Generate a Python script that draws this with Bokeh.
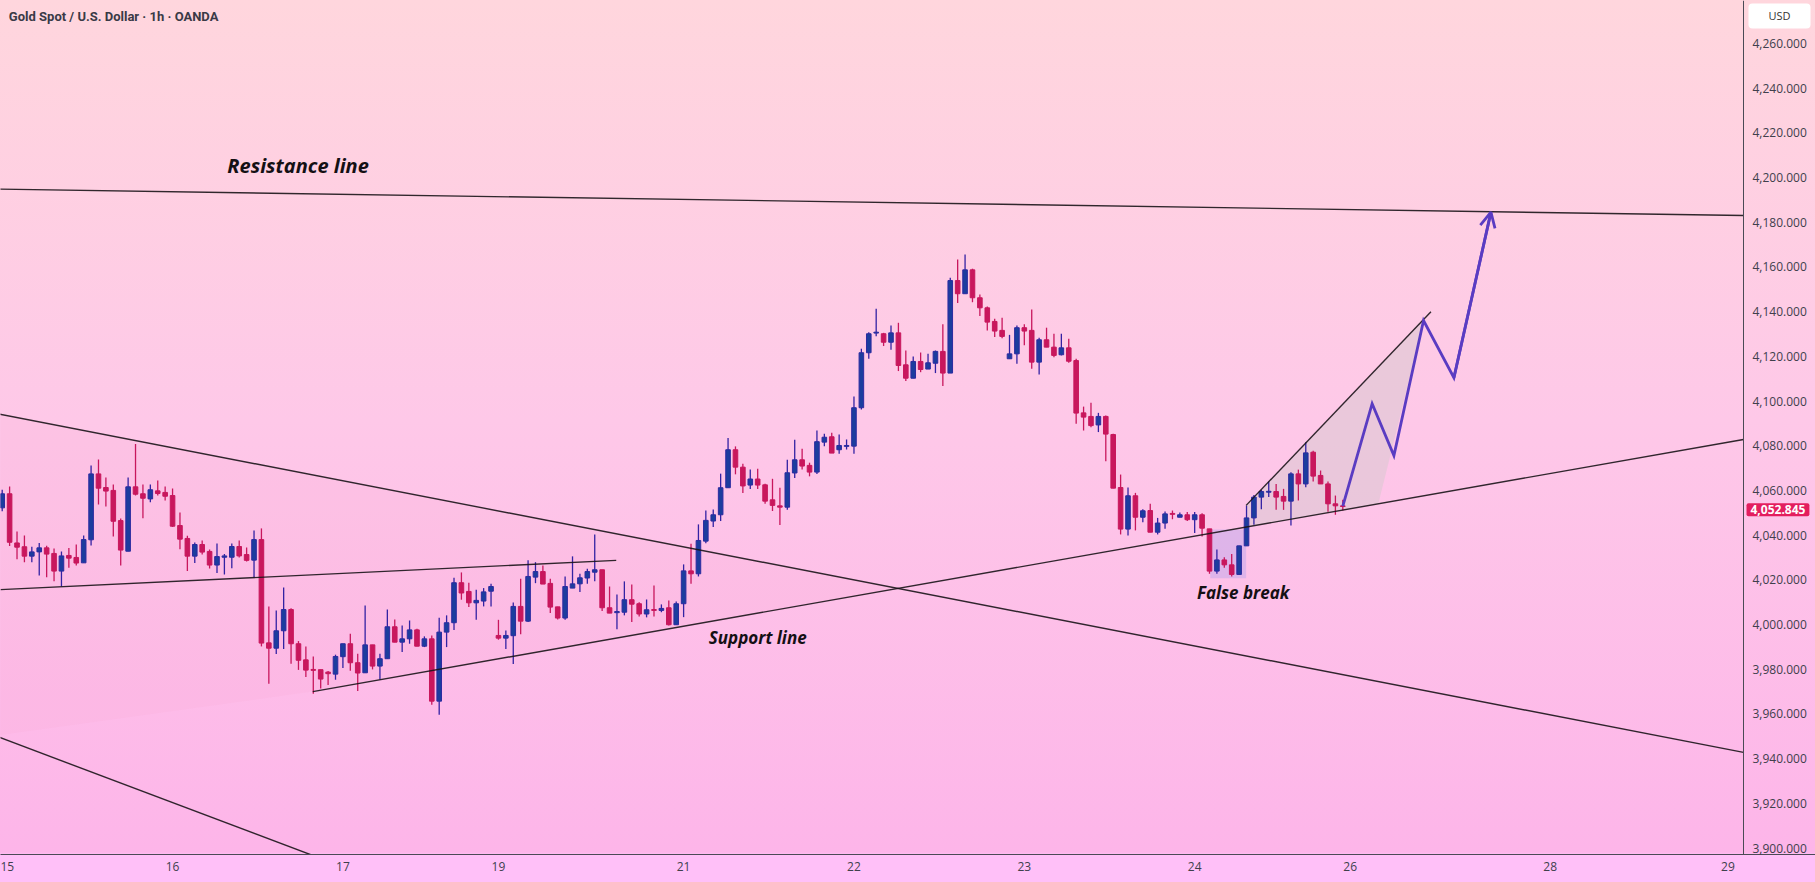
from bokeh.plotting import figure
from bokeh.models import (Range1d, FixedTicker, NumeralTickFormatter, Label, Arrow,
                          OpenHead, ColumnDataSource, Span)
from bokeh.embed import file_html
from bokeh.resources import INLINE

# ---------------- data (1h candles, bar index 0..181) ----------------
opens = [4052.2, 4058.5, 4036.5, 4034.8, 4030.6, 4032.5, 4034.3, 4031.8, 4023.9, 4030.9,
         4030.0, 4027.6, 4037.9, 4067.4, 4061.3, 4060.0, 4046.5, 4032.8, 4061.6, 4058.5,
         4056.2, 4059.8, 4059.1, 4057.7, 4044.3, 4038.5, 4030.6, 4035.8, 4032.7, 4026.6,
         4030.1, 4030.1, 4034.9, 4031.3, 4028.8, 4038.0, 3991.8, 3989.4, 3997.2, 4006.7,
         3991.4, 3984.2, 3979.9, 3979.8, 3978.7, 3977.8, 3985.6, 3991.4, 3982.9, 3978.4,
         3990.9, 3981.4, 3984.7, 3999.0, 3992.1, 3993.6, 3997.6, 3990.3, 3993.6, 3965.7,
         3996.6, 4000.8, 4018.7, 4014.8, 4009.7, 4010.5, 4014.9, 3995.1, 3993.9, 3995.0,
         4008.1, 4001.5, 4021.2, 4023.7, 4018.4, 4007.9, 4002.9, 4016.3, 4018.2, 4020.8,
         4023.4, 4024.5, 4007.5, 4005.3, 4005.5, 4011.1, 4009.3, 4004.7, 4006.7, 4006.3,
         4007.5, 3999.9, 4009.3, 4024.0, 4022.7, 4037.3, 4046.3, 4049.1, 4061.2, 4078.2,
         4070.4, 4062.4, 4065.1, 4062.5, 4055.8, 4053.1, 4052.5, 4067.8, 4073.7, 4071.2,
         4068.2, 4081.6, 4084.0, 4078.2, 4079.7, 4079.8, 4097.0, 4121.6, 4130.4, 4130.1,
         4126.3, 4130.5, 4116.2, 4110.2, 4117.7, 4114.3, 4116.9, 4122.2, 4112.5, 4153.9,
         4148.0, 4158.7, 4146.2, 4141.7, 4135.6, 4131.6, 4118.9, 4121.1, 4132.8, 4131.6,
         4117.4, 4127.4, 4124.1, 4120.7, 4123.8, 4118.1, 4094.7, 4093.1, 4089.3, 4093.1,
         4085.0, 4061.3, 4042.7, 4057.6, 4048.0, 4051.0, 4041.3, 4045.4, 4049.7, 4048.0,
         4049.1, 4046.9, 4049.1, 4042.8, 4023.9, 4028.9, 4026.7, 4022.4, 4035.2, 4047.7,
         4057.0, 4059.2, 4059.5, 4057.3, 4055.2, 4067.4, 4062.9, 4077.1, 4066.7, 4062.9,
         4054.0, 4053.1]
highs = [4060.3, 4061.7, 4041.6, 4039.8, 4034.8, 4036.5, 4035.2, 4034.0, 4032.7, 4034.2,
         4035.8, 4039.8, 4071.1, 4073.8, 4065.8, 4062.6, 4047.4, 4065.8, 4080.8, 4062.6,
         4062.6, 4064.4, 4061.7, 4060.9, 4050.1, 4039.7, 4036.7, 4037.6, 4033.6, 4036.3,
         4031.5, 4036.3, 4037.6, 4034.5, 4042.1, 4043.0, 4008.1, 4006.3, 4016.6, 4007.3,
         3992.6, 3990.2, 3985.7, 3979.8, 3979.2, 3986.5, 3991.4, 3995.9, 3986.9, 4008.5,
         3990.9, 3986.9, 4006.7, 4002.3, 3999.6, 4001.8, 3998.1, 3994.7, 3995.1, 4003.0,
         4004.1, 4020.9, 4023.3, 4018.7, 4015.5, 4016.3, 4018.2, 4002.1, 3997.3, 4009.9,
         4020.5, 4028.7, 4027.9, 4026.4, 4020.5, 4007.9, 4021.5, 4030.5, 4022.7, 4024.9,
         4040.3, 4024.5, 4017.0, 4013.4, 4019.3, 4017.9, 4010.0, 4011.2, 4017.5, 4009.0,
         4010.8, 4010.3, 4026.9, 4036.1, 4044.8, 4051.0, 4051.5, 4067.5, 4083.5, 4079.7,
         4071.9, 4069.4, 4069.7, 4063.0, 4065.2, 4061.2, 4073.7, 4082.7, 4078.6, 4072.4,
         4086.8, 4085.3, 4085.8, 4085.0, 4082.8, 4102.0, 4123.4, 4130.8, 4141.3, 4130.5,
         4133.8, 4135.0, 4122.6, 4119.9, 4121.7, 4121.1, 4122.6, 4134.3, 4155.1, 4163.3,
         4165.6, 4159.2, 4147.7, 4142.3, 4136.8, 4137.2, 4129.6, 4133.8, 4134.3, 4140.9,
         4128.3, 4132.8, 4130.1, 4130.1, 4127.9, 4118.9, 4097.5, 4099.2, 4094.7, 4093.5,
         4085.3, 4067.1, 4061.3, 4058.9, 4051.6, 4054.0, 4047.7, 4050.6, 4051.0, 4050.1,
         4050.3, 4050.3, 4049.8, 4042.8, 4033.6, 4030.1, 4031.6, 4035.2, 4053.2, 4058.0,
         4060.2, 4064.0, 4062.9, 4060.7, 4068.1, 4069.3, 4081.6, 4077.8, 4068.9, 4064.0,
         4057.7, 4055.8]
lows = [4050.7, 4035.1, 4029.2, 4027.9, 4027.9, 4021.9, 4021.2, 4019.4, 4017.0, 4025.4,
        4026.4, 4027.6, 4035.4, 4053.7, 4052.8, 4039.4, 4026.4, 4032.8, 4057.7, 4047.6,
        4054.7, 4057.7, 4055.5, 4043.6, 4033.7, 4023.9, 4027.5, 4031.3, 4025.1, 4023.0,
        4022.4, 4025.2, 4030.0, 4028.2, 4020.9, 3990.2, 3973.5, 3986.8, 3989.0, 3982.4,
        3979.7, 3976.5, 3969.0, 3971.4, 3972.9, 3975.3, 3980.5, 3979.3, 3970.2, 3978.4,
        3979.9, 3975.4, 3984.7, 3992.1, 3987.7, 3991.4, 3990.3, 3989.9, 3964.1, 3959.6,
        3989.9, 3997.6, 4011.1, 4007.8, 4002.1, 4008.1, 4008.1, 3993.2, 3989.0, 3982.3,
        3995.6, 4001.1, 4018.5, 4018.1, 4005.1, 4002.3, 4002.1, 4016.3, 4014.5, 4018.2,
        4019.4, 4006.0, 4005.1, 3997.9, 4004.1, 4001.1, 4003.6, 4003.2, 4003.6, 4005.5,
        3999.6, 3999.9, 4003.3, 4018.2, 4021.5, 4036.4, 4043.6, 4046.3, 4061.2, 4067.2,
        4058.8, 4060.6, 4060.6, 4054.0, 4050.8, 4044.5, 4051.3, 4065.5, 4069.4, 4066.3,
        4067.3, 4079.8, 4076.7, 4076.4, 4078.3, 4076.4, 4096.2, 4118.9, 4129.0, 4124.6,
        4122.9, 4113.4, 4108.9, 4110.2, 4112.9, 4114.3, 4112.5, 4106.7, 4112.5, 4143.8,
        4148.0, 4144.2, 4138.0, 4131.6, 4128.6, 4128.1, 4118.9, 4116.7, 4124.9, 4114.4,
        4111.9, 4124.1, 4119.6, 4120.4, 4117.1, 4089.8, 4086.8, 4088.3, 4086.1, 4073.1,
        4061.0, 4040.3, 4039.8, 4042.1, 4045.8, 4041.3, 4040.3, 4042.8, 4047.1, 4048.0,
        4046.3, 4040.9, 4039.4, 4022.7, 4022.7, 4025.4, 4021.5, 4022.4, 4035.2, 4044.6,
        4051.6, 4057.0, 4051.3, 4051.3, 4044.3, 4055.5, 4061.4, 4064.0, 4062.9, 4050.5,
        4049.1, 4051.0]
closes = [4058.5, 4036.8, 4034.6, 4030.6, 4032.5, 4034.3, 4031.5, 4023.9, 4030.7, 4029.7,
          4027.5, 4038.0, 4067.4, 4061.0, 4059.7, 4046.2, 4033.3, 4061.6, 4058.3, 4056.5,
          4060.3, 4058.6, 4057.4, 4044.0, 4038.2, 4030.6, 4035.8, 4032.4, 4026.6, 4030.4,
          4030.7, 4034.9, 4030.7, 4028.7, 4038.0, 3991.7, 3989.4, 3997.2, 4006.7, 3991.4,
          3984.0, 3979.6, 3979.5, 3975.6, 3978.0, 3985.7, 3991.4, 3982.9, 3978.3, 3990.9,
          3981.4, 3984.7, 3999.0, 3992.1, 3993.6, 3997.6, 3990.3, 3993.6, 3965.7, 3996.6,
          4000.8, 4018.7, 4014.1, 4009.7, 4010.8, 4014.6, 4017.0, 3993.9, 3995.1, 4008.1,
          4001.5, 4021.5, 4023.7, 4018.1, 4007.8, 4002.9, 4017.0, 4018.2, 4020.9, 4023.7,
          4024.5, 4007.5, 4005.1, 4005.8, 4011.1, 4009.1, 4004.7, 4006.6, 4006.3, 4007.2,
          3999.9, 4009.3, 4024.0, 4022.7, 4037.6, 4046.6, 4049.1, 4061.2, 4078.2, 4070.4,
          4062.0, 4065.1, 4062.4, 4055.2, 4053.3, 4052.5, 4067.9, 4073.7, 4070.9, 4068.2,
          4081.8, 4083.8, 4076.7, 4080.1, 4080.1, 4097.0, 4121.6, 4130.1, 4130.8, 4126.3,
          4130.5, 4115.9, 4110.2, 4117.7, 4114.1, 4117.1, 4122.2, 4112.5, 4153.9, 4148.0,
          4158.7, 4146.2, 4141.7, 4135.3, 4131.3, 4128.9, 4121.1, 4132.8, 4131.3, 4117.4,
          4127.4, 4124.1, 4120.4, 4123.8, 4117.8, 4094.6, 4092.8, 4089.0, 4093.1, 4085.2,
          4061.0, 4042.7, 4057.6, 4048.0, 4050.9, 4041.3, 4045.4, 4049.5, 4049.3, 4049.1,
          4046.9, 4049.1, 4043.1, 4023.9, 4028.9, 4026.7, 4022.4, 4035.2, 4047.7, 4057.0,
          4059.5, 4059.6, 4057.0, 4055.2, 4067.4, 4062.9, 4076.8, 4066.4, 4062.9, 4054.0,
          4053.1, 4052.8]

last_price = 4052.845

# x axis (bar index -> day label)
x_tick_pos = [0, 23, 46, 67, 92, 115, 138, 161, 182, 209, 233]
x_tick_lbl = ["15", "16", "17", "19", "21", "22", "23", "24", "26", "28", "29"]
# price axis
y_ticks = [3900, 3920, 3940, 3960, 3980, 4000, 4020, 4040, 4060, 4080, 4100,
           4120, 4140, 4160, 4180, 4200, 4220, 4240, 4260]

# drawings (bar index, price)
chart_right = 235.1            # right edge of the candle pane (price scale starts here)
resistance_x = [-1, chart_right];    resistance_y = [4194.85, 4183.0]
desc_upper_x = [-1, chart_right];    desc_upper_y = [4094.5, 3942.8]
desc_lower_x = [-1, 50];             desc_lower_y = [3950.3, 3886.6]
flat_top_x = [-0.23, 82.9];          flat_top_y = [4015.6, 4028.7]
support_x = [41.93, chart_right];    support_y = [3970.0, 4082.8]
wedge_top_x = [167.95, 192.9];       wedge_top_y = [4053.3, 4139.9]
wedge_fill_x = [167.95, 191.96, 185.8, 167.95]
wedge_fill_y = [4053.3, 4136.5, 4054.0, 4043.6]
tri_fill_x = [-1, 120.85, 41.93, -1]
tri_fill_y = [4094.5, 4016.1, 3970.0, 3950.3]
false_break_x = [163.1, 167.95]; false_break_y = [4020.7, 4042.5]
proj_x = [181, 184.96, 187.9, 191.9, 196.0, 201.0]
proj_y = [4053.0, 4098.8, 4075.6, 4136.0, 4110.4, 4184.5]

# ---------------- figure ----------------
# the frame covers the whole width; the price scale is drawn inside its right strip
p = figure(frame_width=1815, frame_height=854,
           x_range=Range1d(-0.23, 244.82), y_range=Range1d(3897.1, 4279.2),
           y_axis_location="right", output_backend="svg", toolbar_location=None,
           min_border_left=0, min_border_top=0, min_border_right=0, min_border_bottom=28)
p.styles = {"background": "linear-gradient(to bottom, #ffd6dd 0px, #fec8e8 420px, "
                          "#fdb5e9 852px, #ffc0f8 855px, #ffc0f8 882px)"}
p.background_fill_alpha = 0
p.border_fill_alpha = 0
p.outline_line_color = None
p.grid.visible = False

for ax in (p.xaxis[0], p.yaxis[0]):
    ax.major_tick_line_color = None
    ax.minor_tick_line_color = None
    ax.major_tick_out = 0
    ax.major_tick_in = 0
    ax.minor_tick_out = 0
    ax.major_label_text_font = "Open Sans"
    ax.major_label_text_font_size = "12px"
    ax.major_label_text_color = "#40404c"
p.xaxis.axis_line_color = "#4a4a55"
p.yaxis.axis_line_color = None
p.yaxis.ticker = FixedTicker(ticks=y_ticks)
p.yaxis.formatter = NumeralTickFormatter(format="0,0.000")
p.yaxis.major_label_standoff = -63
p.xaxis.ticker = FixedTicker(ticks=x_tick_pos)
p.xaxis.major_label_overrides = {t: l for t, l in zip(x_tick_pos, x_tick_lbl)}
p.xaxis.major_label_standoff = 7

# price-scale separator
p.add_layout(Span(location=chart_right, dimension="height", line_color="#4a4a55",
                  line_width=1))

# shaded drawing regions
p.patch(tri_fill_x, tri_fill_y, fill_color="#f29cc8", fill_alpha=0.10, line_color=None)
p.patch(wedge_fill_x, wedge_fill_y, fill_color="#dcc8d2", fill_alpha=0.6, line_color=None)
p.quad(left=false_break_x[0], right=false_break_x[1], bottom=false_break_y[0],
       top=false_break_y[1], fill_color="#b9a3ec", fill_alpha=0.45, line_color=None)

# candles
idx = list(range(len(opens)))
up = [c >= o for o, c in zip(opens, closes)]
src = ColumnDataSource(dict(
    x=idx, o=opens, h=highs, l=lows, c=closes,
    top=[max(o, c) for o, c in zip(opens, closes)],
    bot=[min(o, c) for o, c in zip(opens, closes)],
    body=["#1c3d9e" if u else "#c8175d" for u in up],
    edge=["#2b2ba0" if u else "#c8175d" for u in up],
    wick=["#3322a3" if u else "#c8175d" for u in up],
))
p.segment(x0="x", y0="l", x1="x", y1="h", source=src, line_color="wick", line_width=1.3)
p.vbar(x="x", top="top", bottom="bot", width=0.62, source=src,
       fill_color="body", line_color="edge", line_width=1)

# trend lines
for xs, ys in [(resistance_x, resistance_y), (desc_upper_x, desc_upper_y),
               (desc_lower_x, desc_lower_y), (flat_top_x, flat_top_y),
               (support_x, support_y), (wedge_top_x, wedge_top_y)]:
    p.line(xs, ys, line_color="#1a1418", line_width=1.4, line_alpha=0.9)

# projected path
pc = "#5a3cc2"
p.line(proj_x, proj_y, line_color=pc, line_width=2.8, line_join="miter")
p.add_layout(Arrow(end=OpenHead(size=15, line_color=pc, line_width=2.8),
                   x_start=proj_x[-2], y_start=proj_y[-2], x_end=proj_x[-1], y_end=proj_y[-1],
                   line_color=pc, line_width=2.8))

# text
def lab(x, y, t, size, style="bold italic", color="#141014", font="Open Sans", **kw):
    p.add_layout(Label(x=x, y=y, text=t, text_font=font, text_font_size=size,
                       text_font_style=style, text_color=color, text_baseline="middle", **kw))

lab(30.4, 4205.4, "Resistance line", "20px")
lab(95.4, 3994.4, "Support line", "17px")
lab(161.3, 4014.5, "False break", "17px")
lab(0.9, 4272.0, "Gold Spot / U.S. Dollar \u00b7 1h \u00b7 OANDA", "13px", style="bold",
    color="#3a3a46", font="Roboto")

# currency box and last-price tag on the price scale
p.add_layout(Label(x=239.96, y=4272.3, text="USD",
                   text_font="Open Sans", text_font_size="11px", text_color="#333333",
                   text_align="center", text_baseline="middle",
                   background_fill_color="white", padding=(20, 5), border_radius=4))
p.add_layout(Label(x=239.75, y=last_price - 1.5, text="4,052.845", text_font="Open Sans",
                   text_font_size="12px", text_font_style="bold", text_color="white",
                   text_align="center", text_baseline="middle",
                   background_fill_color="#e31e5e", padding=(4, 2), border_radius=2))

open("out.html", "w").write(file_html(p, INLINE, title="Gold Spot / U.S. Dollar"))
